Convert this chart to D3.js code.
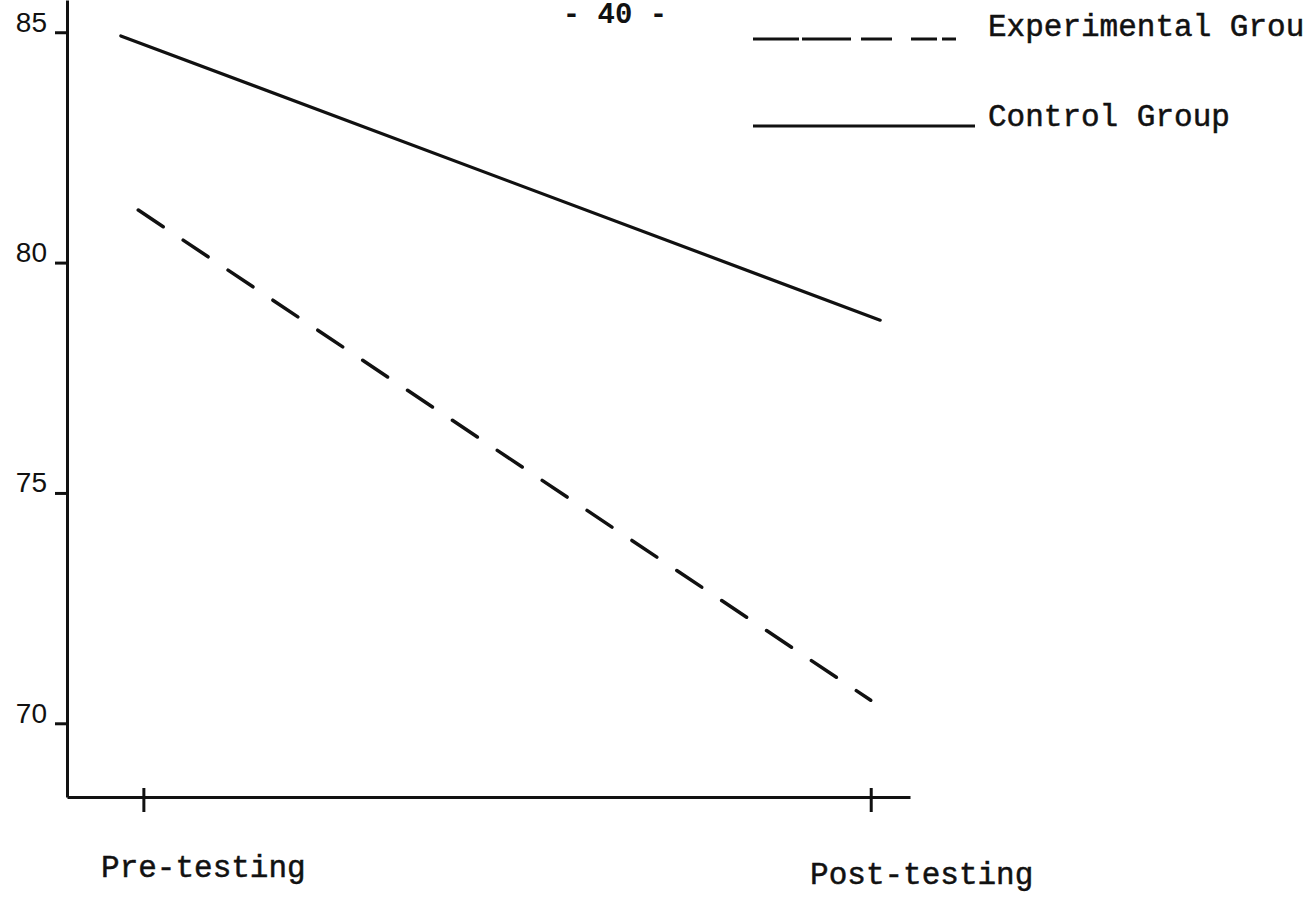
<!DOCTYPE html>
<html>
<head>
<meta charset="utf-8">
<script src="https://cdn.jsdelivr.net/npm/d3@7"></script>
<style>
  html, body { margin: 0; padding: 0; background: #fff; }
  svg { display: block; }
</style>
</head>
<body>
<svg id="chart" width="1303" height="902"></svg>
<script>
// ---- data ----
const pageNumber = "- 40 -";
const categories = ["Pre-testing", "Post-testing"];
const categoryPos = [0, 1];
const yTicks = [70, 75, 80, 85];
const seriesNames = ["Experimental Group", "Control Group"];
// x position (0 = pre, 1 = post) and score
const experimentalX = [-0.007, 1.0];
const experimentalY = [81.14, 70.5];
const controlX = [-0.031, 1.013];
const controlY = [84.92, 78.75];

// ---- layout ----
const svg = d3.select("#chart");
const axisX0 = 67, axisX1 = 910, axisYbottom = 797, axisYtop = 0;
const x = d3.scaleLinear().domain([-0.105, 1.054]).range([axisX0, axisX1]);
const y = d3.scaleLinear().domain([68.4, 85.7]).range([axisYbottom, axisYtop]);
const ink = "#111";
const mono = "'Liberation Mono', 'Courier New', monospace";
const sans = "'Liberation Sans', Arial, sans-serif";

// page number
svg.append("text")
  .attr("x", 615).attr("y", 23)
  .attr("text-anchor", "middle")
  .style("font-family", mono).style("font-size", "29px").style("font-weight", "bold")
  .style("fill", ink)
  .text(pageNumber);

// y axis
const yAxis = svg.append("g")
  .attr("transform", `translate(${axisX0},0)`)
  .call(d3.axisLeft(y).tickValues(yTicks).tickSize(12).tickSizeOuter(0).tickPadding(8).tickFormat(d3.format("d")));
yAxis.select(".domain").attr("stroke", ink).attr("stroke-width", 3);
yAxis.selectAll(".tick line").attr("stroke", ink).attr("stroke-width", 3);
yAxis.selectAll(".tick text")
  .attr("dy", null).attr("y", -1)
  .style("font-family", sans).style("font-size", "28px").style("fill", ink);

// x axis
const xAxis = svg.append("g")
  .attr("transform", `translate(0,${axisYbottom})`)
  .call(d3.axisBottom(x).tickValues(categoryPos).tickSize(15).tickSizeOuter(0).tickFormat(""));
xAxis.select(".domain").attr("stroke", ink).attr("stroke-width", 3);
xAxis.selectAll(".tick line").attr("y1", -9).attr("stroke", ink).attr("stroke-width", 3);

// category labels
const labelDx = [60, 51], labelY = [877, 884];
svg.append("g").selectAll("text")
  .data(categories)
  .join("text")
  .attr("x", (d, i) => x(categoryPos[i]) + labelDx[i])
  .attr("y", (d, i) => labelY[i])
  .attr("text-anchor", "middle")
  .style("font-family", mono).style("font-size", "31px").style("fill", ink)
  .style("stroke", ink).style("stroke-width", 0.5)
  .text(d => d);

// lines
const line = d3.line().x(d => x(d[0])).y(d => y(d[1]));
svg.append("path")
  .datum(d3.zip(controlX, controlY))
  .attr("d", line)
  .attr("fill", "none").attr("stroke", ink).attr("stroke-width", 3.2)
  .attr("stroke-linecap", "round");
svg.append("path")
  .datum(d3.zip(experimentalX, experimentalY))
  .attr("d", line)
  .attr("fill", "none").attr("stroke", ink).attr("stroke-width", 3.5)
  .attr("stroke-linecap", "round")
  .attr("stroke-dasharray", "30,24");

// legend
const legend = svg.append("g");
const legendRows = [
  { name: seriesNames[0], ly: 39, ty: 36, dash: "46,3,49,10,31,19,26,5,14" },
  { name: seriesNames[1], ly: 126, ty: 126, dash: null }
];
legendRows.forEach(r => {
  legend.append("line")
    .attr("x1", 753).attr("x2", 975).attr("y1", r.ly).attr("y2", r.ly)
    .attr("stroke", ink).attr("stroke-width", 3)
    .attr("stroke-dasharray", r.dash);
  legend.append("text")
    .attr("x", 988).attr("y", r.ty)
    .style("font-family", mono).style("font-size", "31px").style("fill", ink)
    .style("stroke", ink).style("stroke-width", 0.5)
    .text(r.name);
});
</script>
</body>
</html>
